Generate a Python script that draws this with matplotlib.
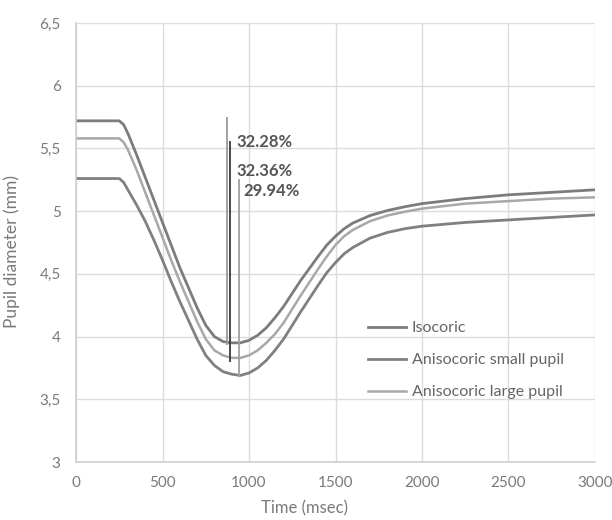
import matplotlib
matplotlib.use("Agg")
import matplotlib.pyplot as plt

# time axis (msec) and pupil diameter (mm)
time_ms = [0, 250, 275, 300, 350, 400, 450, 500, 550, 600, 650, 700, 750, 800,
           850, 900, 950, 1000, 1050, 1100, 1150, 1200, 1300, 1400, 1450, 1500, 1550,
           1600, 1700, 1800, 1900, 2000, 2250, 2500, 2750, 3000]

isocoric = [5.72, 5.72, 5.69, 5.62, 5.45, 5.27, 5.09, 4.91, 4.73, 4.55, 4.39, 4.23, 4.09, 4.00,
            3.96, 3.95, 3.95, 3.97, 4.01, 4.07, 4.15, 4.24, 4.45, 4.64, 4.73, 4.80, 4.86,
            4.905, 4.965, 5.005, 5.035, 5.06, 5.10, 5.13, 5.15, 5.17]

aniso_small = [5.26, 5.26, 5.23, 5.17, 5.05, 4.92, 4.77, 4.61, 4.44, 4.28, 4.13, 3.98, 3.85, 3.77,
               3.72, 3.70, 3.69, 3.71, 3.75, 3.81, 3.89, 3.98, 4.20, 4.41, 4.51, 4.59, 4.66,
               4.71, 4.785, 4.83, 4.86, 4.88, 4.91, 4.93, 4.95, 4.97]

aniso_large = [5.58, 5.58, 5.55, 5.49, 5.33, 5.15, 4.97, 4.79, 4.61, 4.44, 4.28, 4.12, 3.98, 3.89,
               3.85, 3.83, 3.83, 3.85, 3.89, 3.95, 4.02, 4.11, 4.33, 4.54, 4.64, 4.73, 4.80,
               4.85, 4.92, 4.965, 4.995, 5.02, 5.06, 5.08, 5.10, 5.11]

# constriction markers (vertical lines) and their labels
mark_t = [870, 893, 940]
mark_top = [5.75, 5.56, 5.26]
mark_bottom = [3.93, 3.80, 3.68]
pct_labels = ["32.28%", "32.36%", "29.94%"]
pct_t = [930, 925, 965]
pct_y = [5.55, 5.32, 5.16]

x_ticks = [0, 500, 1000, 1500, 2000, 2500, 3000]
y_ticks = [3, 3.5, 4, 4.5, 5, 5.5, 6, 6.5]
y_ticklabels = ["3", "3,5", "4", "4,5", "5", "5,5", "6", "6,5"]

plt.rcParams["font.family"] = ["Lato", "DejaVu Sans"]

fig = plt.figure(figsize=(6.12, 5.2), dpi=100)
ax = fig.add_axes([76 / 612, 1 - 462 / 520, (595 - 76) / 612, (462 - 23) / 520])

ax.plot(time_ms, isocoric, color="#7c7c7c", lw=2.0, label="Isocoric")
ax.plot(time_ms, aniso_small, color="#808080", lw=2.0, label="Anisocoric small pupil")
ax.plot(time_ms, aniso_large, color="#a8a8a8", lw=1.8, label="Anisocoric large pupil")

mark_colors = ["#9a9a9a", "#3a3a3a", "#a0a0a0"]
for t, y0, y1, c in zip(mark_t, mark_bottom, mark_top, mark_colors):
    ax.vlines(t, y0, y1, color=c, lw=1.3)

for t, y, s in zip(pct_t, pct_y, pct_labels):
    ax.text(t, y, s, fontsize=12, fontweight="bold", color="#555555",
            ha="left", va="center")

ax.set_xlim(0, 3000)
ax.set_ylim(3, 6.5)
ax.set_xticks(x_ticks)
ax.set_yticks(y_ticks)
ax.set_yticklabels(y_ticklabels)
ax.grid(True, color="#dcdcdc", lw=1.0)
ax.set_axisbelow(True)
for side in ["top", "right"]:
    ax.spines[side].set_visible(False)
for side in ["left", "bottom"]:
    ax.spines[side].set_color("#cfcfcf")
    ax.spines[side].set_linewidth(1.2)
ax.tick_params(length=0, labelsize=11, labelcolor="#7a7a7a")
ax.tick_params(axis="y", pad=11)
ax.tick_params(axis="x", pad=10)

ax.set_xlabel("Time (msec)", fontsize=12, color="#7a7a7a")
ax.set_ylabel("Pupil diameter (mm)", fontsize=12.5, color="#7a7a7a")
ax.xaxis.set_label_coords(0.44, -0.087)
ax.yaxis.set_label_coords(-0.108, 0.48)

ax.legend(loc="upper left", bbox_to_anchor=(360 / 612, 1 - 313 / 520),
          bbox_transform=fig.transFigure, frameon=False, fontsize=11.5,
          handlelength=2.4, handletextpad=0.35, labelspacing=1.12,
          borderpad=0, labelcolor="#666666")

fig.savefig("out.png", dpi=100)
